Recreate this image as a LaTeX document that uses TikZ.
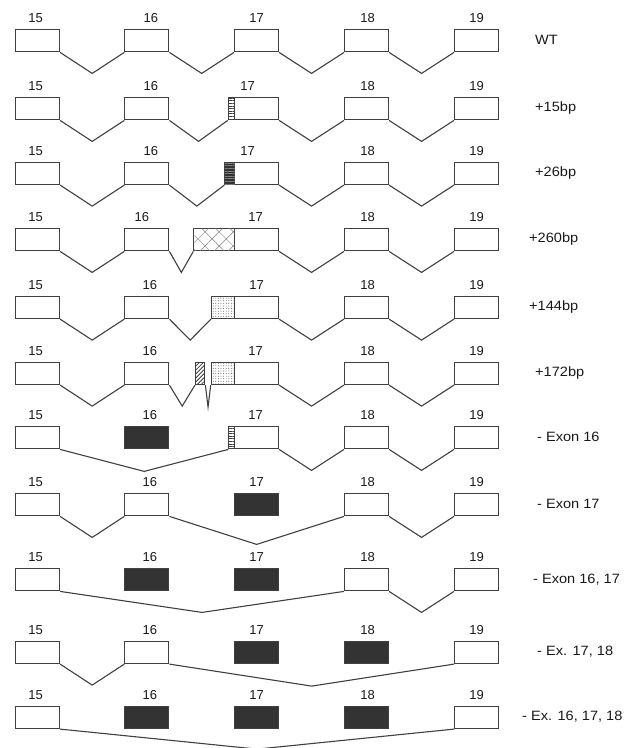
\documentclass[tikz,border=0pt]{standalone}
\usepackage{fontspec}
\setmainfont{Liberation Sans}
\newfontfamily\labfont[FakeStretch=1.08]{Liberation Sans}
\usetikzlibrary{calc,patterns.meta}
\definecolor{ln}{HTML}{404040}
\definecolor{dk}{HTML}{333333}
\newcommand\exlink[3][21]{\draw[conn] (#2.south east) -- ($(#2.south east)!0.5!(#3.south west)+(0,#1)$) -- (#3.south west);}
\begin{document}
\begin{tikzpicture}[x=1pt,y=-1pt,
 exon/.style={draw=ln, line width=1.1pt, minimum width=44pt, minimum height=22pt, inner sep=0pt, anchor=north west},
 ins/.style={draw=ln, line width=1.1pt, minimum height=22pt, inner sep=0pt, anchor=north west},
 num/.style={font=\fontsize{13}{15}\selectfont, text=black!90, inner sep=0pt},
 lab/.style={font=\labfont\fontsize{13.5}{15}\selectfont, text=black!90, anchor=west, inner sep=0pt},
 conn/.style={draw=ln, line width=1.1pt, line join=miter}
]
\useasboundingbox (0,0) rectangle (629,748);
% exon boxes
\foreach \r/\T/\fa/\fb/\fc in {1/29.3/white/white/white, 2/97.3/white/white/white, 3/162/white/white/white,
  4/228.3/white/white/white, 5/296/white/white/white, 6/362/white/white/white, 7/426.3/dk/white/white,
  8/493.3/white/dk/white, 9/568.3/dk/dk/white, 10/641/white/dk/dk, 11/706/dk/dk/dk}{
  \node[exon, fill=white] (r\r e15) at (15,\T) {};
  \node[exon, fill=\fa] (r\r e16) at (124.3,\T) {};
  \node[exon, fill=\fb] (r\r e17) at (234,\T) {};
  \node[exon, fill=\fc] (r\r e18) at (344,\T) {};
  \node[exon, fill=white] (r\r e19) at (454,\T) {};
}
% exon numbers
\foreach \r/\da/\db/\dc in {1/4/0/0, 2/4/-9/0, 3/4/-9/0, 4/-5/-1/0, 5/3/0/0, 6/3/-1/0, 7/3/-1/0, 8/3/0/0, 9/3/0/0, 10/3/0/0, 11/3/0/0}{
  \node[num] (n\r e15) at ($(r\r e15.north)+(-2,-11)$) {15};
  \node[num] (n\r e16) at ($(r\r e16.north)+(\da,-11)$) {16};
  \node[num] (n\r e17) at ($(r\r e17.north)+(\db,-11)$) {17};
  \node[num] (n\r e18) at ($(r\r e18.north)+(1,-11)$) {18};
  \node[num] (n\r e19) at ($(r\r e19.north)+(0,-11)$) {19};
}
% inserts
\node[ins, minimum width=6.3pt, fill=white, postaction={pattern={Lines[angle=0,distance=2.6pt,line width=0.5pt]}, pattern color=ln}] (r2i) at (227.7,97.3) {};
\node[ins, minimum width=9.7pt, fill=dk, postaction={pattern={Lines[angle=0,distance=2.6pt,line width=0.5pt]}, pattern color=gray}] (r3i) at (224.3,162) {};
\node[ins, minimum width=40.7pt, fill=white, postaction={pattern={Hatch[angle=45,distance=10pt,line width=0.5pt]}, pattern color=gray}] (r4i) at (193.3,228.3) {};
\node[ins, minimum width=23pt, fill=white, postaction={pattern={Dots[distance=2.6pt,radius=0.45pt]}, pattern color=ln}] (r5i) at (211,296) {};
\node[ins, minimum width=9.3pt, fill=white, postaction={pattern={Lines[angle=45,distance=2.8pt,line width=0.8pt]}, pattern color=ln}] (r6a) at (195,362) {};
\node[ins, minimum width=23.3pt, fill=white, postaction={pattern={Dots[distance=2.6pt,radius=0.45pt]}, pattern color=ln}] (r6b) at (210.7,362) {};
\node[ins, minimum width=6pt, fill=white, postaction={pattern={Lines[angle=0,distance=2.6pt,line width=0.5pt]}, pattern color=ln}] (r7i) at (228.3,426.3) {};
% connectors
\exlink{r1e15}{r1e16} \exlink{r1e16}{r1e17} \exlink{r1e17}{r1e18} \exlink{r1e18}{r1e19}
\exlink{r2e15}{r2e16} \exlink{r2e16}{r2i} \exlink{r2e17}{r2e18} \exlink{r2e18}{r2e19}
\exlink{r3e15}{r3e16} \exlink{r3e16}{r3i} \exlink{r3e17}{r3e18} \exlink{r3e18}{r3e19}
\exlink{r4e15}{r4e16} \exlink{r4e16}{r4i} \exlink{r4e17}{r4e18} \exlink{r4e18}{r4e19}
\exlink{r5e15}{r5e16} \exlink{r5e16}{r5i} \exlink{r5e17}{r5e18} \exlink{r5e18}{r5e19}
\exlink{r6e15}{r6e16} \exlink{r6e16}{r6a} \exlink[22]{r6a}{r6b} \exlink{r6e17}{r6e18} \exlink{r6e18}{r6e19}
\exlink[22]{r7e15}{r7i} \exlink{r7e17}{r7e18} \exlink{r7e18}{r7e19}
\exlink{r8e15}{r8e16} \exlink[28]{r8e16}{r8e18} \exlink{r8e18}{r8e19}
\exlink{r9e15}{r9e18} \exlink{r9e18}{r9e19}
\exlink{r10e15}{r10e16} \exlink[22]{r10e16}{r10e19}
\exlink[20]{r11e15}{r11e19}
% row labels
\node[lab] (l1) at (535,40.3) {WT};
\node[lab] (l2) at (535,108.3) {+15bp};
\node[lab] (l3) at (535,173) {+26bp};
\node[lab] (l4) at (529,239.3) {+260bp};
\node[lab] (l5) at (529,307) {+144bp};
\node[lab] (l6) at (535,373) {+172bp};
\node[lab] (l7) at (537,437.3) {- Exon 16};
\node[lab] (l8) at (537,504.3) {- Exon 17};
\node[lab] (l9) at (533,579.3) {- Exon 16, 17};
\node[lab] (l10) at (537,652) {- Ex. 17, 18};
\node[lab] (l11) at (522,717) {- Ex. 16, 17, 18};
\end{tikzpicture}
\end{document}
